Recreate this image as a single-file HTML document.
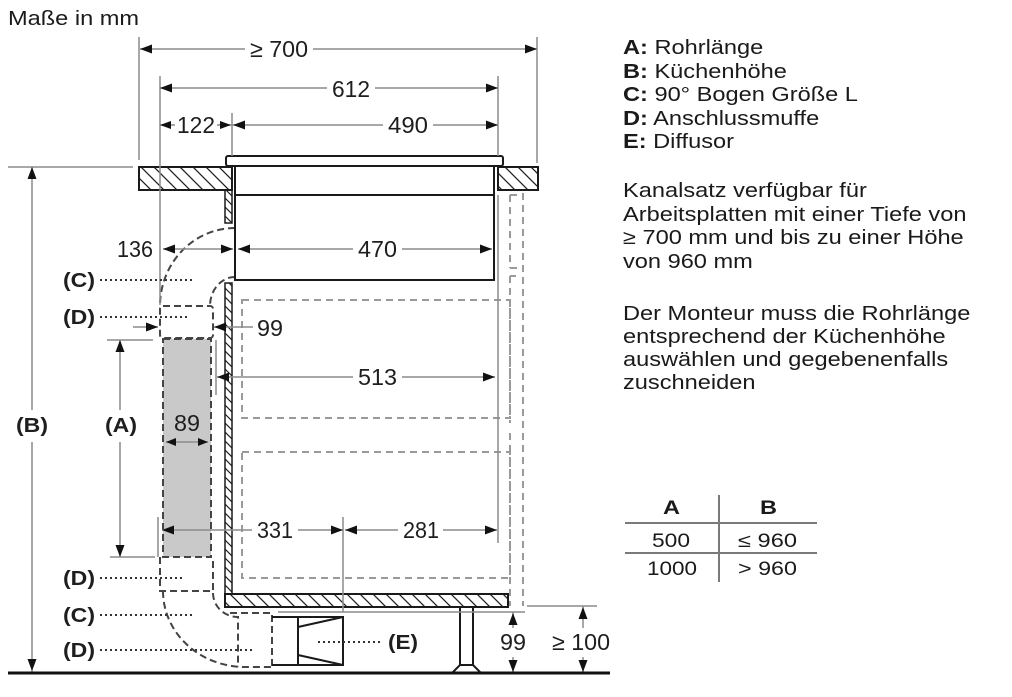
<!DOCTYPE html>
<html>
<head>
<meta charset="utf-8">
<style>
  html,body{margin:0;padding:0;background:#fff;}
  svg{display:block;}
  text{font-family:"Liberation Sans", Arial, sans-serif;}
</style>
</head>
<body>
<svg width="1012" height="697" viewBox="0 0 1012 697" xmlns="http://www.w3.org/2000/svg">
  <defs>
    <pattern id="hw" width="13" height="13" patternUnits="userSpaceOnUse">
      <path d="M-2,-2 L15,15 M-2,11 L2,15 M11,-2 L15,2" stroke="#222" stroke-width="1.3"/>
    </pattern>
    <pattern id="hs" width="9" height="9" patternUnits="userSpaceOnUse">
      <path d="M-2,-2 L11,11 M-2,7 L2,11 M7,-2 L11,2" stroke="#222" stroke-width="1.2"/>
    </pattern>
  </defs>
  <rect width="1012" height="697" fill="#fff"/>

  <!-- Dashed drawers / door -->
  <g stroke="#9a9a9a" stroke-width="2" fill="none" stroke-dasharray="7 5">
    <rect x="242" y="300" width="268" height="118"/>
    <rect x="242" y="452" width="268" height="126"/>
    <path d="M510,195 V268 M510,276 V423 M510,433 V606 M523,193 V606 M510,195 H523 M510,268 H523 M510,276 H516"/>
  </g>

  <!-- Ventilation pipe parts (dashed) -->
  <rect x="163" y="339" width="48" height="218" fill="#c9c9c9" stroke="#444" stroke-width="2" stroke-dasharray="7 4"/>
  <g stroke="#444" stroke-width="2" fill="none" stroke-dasharray="7 4">
    <path d="M235,228 A75,78 0 0 0 160,306"/>
    <path d="M235,277 A25,29 0 0 0 210,306"/>
    <rect x="160" y="306" width="53" height="32" rx="3"/>
    <path d="M160,557 V591 H213 V557"/>
    <path d="M163,591 A82,76 0 0 0 245,667 H272"/>
    <path d="M213,593 A25,24 0 0 0 238,617 V667"/>
    <path d="M230,613 H272 V667"/>
  </g>

  <!-- Hob -->
  <rect x="235" y="166" width="259" height="114" fill="none" stroke="#1a1a1a" stroke-width="2"/>
  <rect x="226" y="156" width="277" height="10" rx="2" fill="#fff" stroke="#1a1a1a" stroke-width="2"/>
  <path d="M235,195 H494" stroke="#1a1a1a" stroke-width="2"/>
  <path d="M232,166 V190 M498,166 V190" stroke="#444" stroke-width="1.5"/>

  <!-- Worktops -->
  <rect x="139" y="167" width="93" height="23" fill="url(#hw)" stroke="#1a1a1a" stroke-width="2"/>
  <rect x="498" y="167" width="40" height="23" fill="url(#hw)" stroke="#1a1a1a" stroke-width="2"/>
  <rect x="225" y="190" width="7" height="33" fill="url(#hs)" stroke="#1a1a1a" stroke-width="1.5"/>

  <!-- Cabinet wall and base -->
  <rect x="225" y="283" width="7" height="311" fill="url(#hs)" stroke="#1a1a1a" stroke-width="1.5"/>
  <rect x="225" y="594" width="283" height="13" fill="url(#hw)" stroke="#1a1a1a" stroke-width="2"/>

  <!-- Diffuser -->
  <g stroke="#1a1a1a" stroke-width="2" fill="none">
    <path d="M272,617 H343 V665 H272"/>
    <path d="M298,617 V665 M298,627 L343,617 M298,655 L343,665"/>
  </g>

  <!-- Foot -->
  <g stroke="#1a1a1a" stroke-width="2" fill="#fff">
    <rect x="460" y="607" width="13" height="59"/>
    <path d="M452,673 L460,665 H473 L481,673 Z"/>
  </g>

  <!-- Dimension / extension lines -->
  <g stroke="#8c8c8c" stroke-width="1.5" fill="none">
    <path d="M139,37 V160 M537,37 V163 M160,76 V305 M498,76 V156 M232,113 V156"/>
    <path d="M140,49 H245 M313,49 H537"/>
    <path d="M160,88 H327 M375,88 H498"/>
    <path d="M160,125 H175 M217,125 H232 M232,125 H383 M433,125 H498"/>
    <path d="M8,167 H133"/>
    <path d="M32,167 V410 M32,442 V672"/>
    <path d="M107,340 H153 M110,557 H155 M120,340 V410 M120,442 V557"/>
    <path d="M163,249 H233 M238,249 H353 M402,249 H492"/>
    <path d="M133,327 H158 M214,327 H253"/>
    <path d="M217,377 H353 M402,377 H495 M216,340 V395"/>
    <path d="M498,195 V543"/>
    <path d="M166,442 H208"/>
    <path d="M158,517 V557 M162,530 H252 M298,530 H343 M343,517 V612"/>
    <path d="M345,530 H398 M443,530 H497"/>
    <path d="M278,612 H525 M527,606 H597"/>
    <path d="M513,612 V628 M513,657 V673 M583,606 V628 M583,657 V673"/>
  </g>

  <!-- Arrowheads -->
  <g fill="#111">
    <polygon points="140,49 152,44.5 152,53.5"/>
    <polygon points="537,49 525,44.5 525,53.5"/>
    <polygon points="160,88 172,83.5 172,92.5"/>
    <polygon points="498,88 486,83.5 486,92.5"/>
    <polygon points="160,125 171,121 171,129"/>
    <polygon points="231,125 220,121 220,129"/>
    <polygon points="233,125 245,120.5 245,129.5"/>
    <polygon points="498,125 486,120.5 486,129.5"/>
    <polygon points="32,167 27.5,179 36.5,179"/>
    <polygon points="32,671 27.5,659 36.5,659"/>
    <polygon points="120,340 115.5,352 124.5,352"/>
    <polygon points="120,557 115.5,545 124.5,545"/>
    <polygon points="163,249 175,244.5 175,253.5"/>
    <polygon points="233,249 221,244.5 221,253.5"/>
    <polygon points="238,249 250,244.5 250,253.5"/>
    <polygon points="492,249 480,244.5 480,253.5"/>
    <polygon points="158,327 146,322.5 146,331.5"/>
    <polygon points="214,327 226,322.5 226,331.5"/>
    <polygon points="217,377 229,372.5 229,381.5"/>
    <polygon points="495,377 483,372.5 483,381.5"/>
    <polygon points="166,442 176,438 176,446"/>
    <polygon points="208,442 198,438 198,446"/>
    <polygon points="162,530 174,525.5 174,534.5"/>
    <polygon points="343,530 331,525.5 331,534.5"/>
    <polygon points="345,530 357,525.5 357,534.5"/>
    <polygon points="497,530 485,525.5 485,534.5"/>
    <polygon points="513,613 508.5,625 517.5,625"/>
    <polygon points="513,672 508.5,660 517.5,660"/>
    <polygon points="583,607 578.5,619 587.5,619"/>
    <polygon points="583,672 578.5,660 587.5,660"/>
  </g>

  <!-- Floor -->
  <path d="M8,673 H610" stroke="#111" stroke-width="3"/>

  <!-- Dotted leaders -->
  <g stroke="#333" stroke-width="2" stroke-dasharray="2 3" fill="none">
    <path d="M100,280 H193 M100,317 H187 M100,578 H182 M100,615 H193 M100,650 H253 M318,642 H380"/>
  </g>

  <!-- Dimension numbers -->
  <g font-size="23" fill="#1e1e1e">
    <text x="250" y="57" textLength="58" lengthAdjust="spacingAndGlyphs">≥ 700</text>
    <text x="332" y="97" textLength="38" lengthAdjust="spacingAndGlyphs">612</text>
    <text x="177" y="133" textLength="38" lengthAdjust="spacingAndGlyphs">122</text>
    <text x="388" y="133" textLength="40" lengthAdjust="spacingAndGlyphs">490</text>
    <text x="117" y="257" textLength="36" lengthAdjust="spacingAndGlyphs">136</text>
    <text x="358" y="257" textLength="39" lengthAdjust="spacingAndGlyphs">470</text>
    <text x="257" y="336" textLength="26" lengthAdjust="spacingAndGlyphs">99</text>
    <text x="358" y="385" textLength="39" lengthAdjust="spacingAndGlyphs">513</text>
    <text x="174" y="431" textLength="26" lengthAdjust="spacingAndGlyphs">89</text>
    <text x="257" y="538" textLength="36" lengthAdjust="spacingAndGlyphs">331</text>
    <text x="403" y="538" textLength="36" lengthAdjust="spacingAndGlyphs">281</text>
    <text x="500" y="650" textLength="26" lengthAdjust="spacingAndGlyphs">99</text>
    <text x="552" y="650" textLength="58" lengthAdjust="spacingAndGlyphs">≥ 100</text>
  </g>

  <!-- Letter labels -->
  <g font-size="20" font-weight="bold" fill="#1e1e1e">
    <text x="63" y="287" textLength="32" lengthAdjust="spacingAndGlyphs">(C)</text>
    <text x="63" y="324" textLength="32" lengthAdjust="spacingAndGlyphs">(D)</text>
    <text x="16" y="432" textLength="32" lengthAdjust="spacingAndGlyphs">(B)</text>
    <text x="105" y="432" textLength="32" lengthAdjust="spacingAndGlyphs">(A)</text>
    <text x="63" y="585" textLength="32" lengthAdjust="spacingAndGlyphs">(D)</text>
    <text x="63" y="622" textLength="32" lengthAdjust="spacingAndGlyphs">(C)</text>
    <text x="63" y="657" textLength="32" lengthAdjust="spacingAndGlyphs">(D)</text>
    <text x="388" y="649" textLength="30" lengthAdjust="spacingAndGlyphs">(E)</text>
  </g>

  <!-- Title -->
  <g transform="translate(8,0) scale(1.18,1)" font-size="20" fill="#1a1a1a">
    <text x="0" y="25">Maße in mm</text>
  </g>

  <!-- Right-hand text -->
  <g transform="translate(623,0) scale(1.18,1)" font-size="20" fill="#1a1a1a">
    <text x="0" y="54"><tspan font-weight="bold">A:</tspan> Rohrlänge</text>
    <text x="0" y="78"><tspan font-weight="bold">B:</tspan> Küchenhöhe</text>
    <text x="0" y="101"><tspan font-weight="bold">C:</tspan> 90° Bogen Größe L</text>
    <text x="0" y="125"><tspan font-weight="bold">D:</tspan> Anschlussmuffe</text>
    <text x="0" y="148"><tspan font-weight="bold">E:</tspan> Diffusor</text>

    <text x="0" y="197">Kanalsatz verfügbar für</text>
    <text x="0" y="221">Arbeitsplatten mit einer Tiefe von</text>
    <text x="0" y="244">≥ 700 mm und bis zu einer Höhe</text>
    <text x="0" y="268">von 960 mm</text>

    <text x="0" y="320">Der Monteur muss die Rohrlänge</text>
    <text x="0" y="343">entsprechend der Küchenhöhe</text>
    <text x="0" y="366">auswählen und gegebenenfalls</text>
    <text x="0" y="389">zuschneiden</text>
  </g>

  <!-- Table -->
  <g stroke="#7a7a7a" stroke-width="2">
    <path d="M625,523 H817 M625,553 H817 M719,495 V582"/>
  </g>
  <g font-size="19" fill="#1a1a1a">
    <text x="663" y="514" font-weight="bold" textLength="17" lengthAdjust="spacingAndGlyphs">A</text>
    <text x="760" y="514" font-weight="bold" textLength="17" lengthAdjust="spacingAndGlyphs">B</text>
    <text x="652" y="547" textLength="38" lengthAdjust="spacingAndGlyphs">500</text>
    <text x="738" y="547" textLength="59" lengthAdjust="spacingAndGlyphs">≤ 960</text>
    <text x="647" y="575" textLength="50" lengthAdjust="spacingAndGlyphs">1000</text>
    <text x="738" y="575" textLength="59" lengthAdjust="spacingAndGlyphs">&gt; 960</text>
  </g>
</svg>
</body>
</html>
